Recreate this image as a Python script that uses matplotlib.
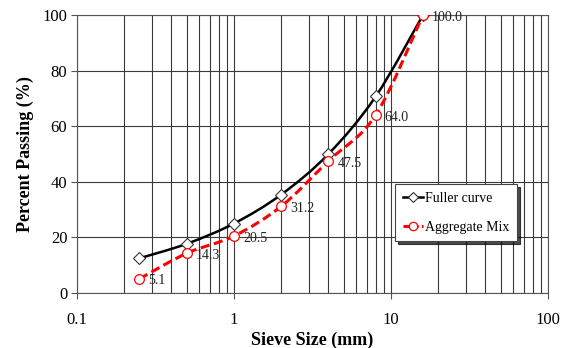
import numpy as np
import matplotlib.pyplot as plt
from matplotlib.path import Path
from matplotlib.patches import PathPatch
from matplotlib.ticker import FixedLocator, NullFormatter

# ====== DATA ======
sieve_mm = [0.25, 0.5, 1, 2, 4, 8, 16]
fuller = [12.5, 17.7, 25.0, 35.4, 50.0, 70.7, 100.0]
mix = [5.1, 14.3, 20.5, 31.2, 47.5, 64.0, 100.0]
mix_labels = ["5.1", "14.3", "20.5", "31.2", "47.5", "64.0", "100.0"]

plt.rcParams['font.family'] = ['Liberation Serif', 'DejaVu Serif']


def smooth_path(x, y):
    # Excel-style smoothed line: cubic bezier through the points (log x)
    u = np.log10(x)
    y = np.asarray(y, float)
    pts = np.column_stack([u, y])
    n = len(pts)
    verts = [pts[0]]
    codes = [Path.MOVETO]
    for i in range(n - 1):
        p0 = pts[i - 1] if i > 0 else pts[i]
        p3 = pts[i + 2] if i + 2 < n else pts[i + 1]
        c1 = pts[i] + (pts[i + 1] - p0) / 6
        c2 = pts[i + 1] - (p3 - pts[i]) / 6
        verts += [c1, c2, pts[i + 1]]
        codes += [Path.CURVE4] * 3
    verts = np.array(verts)
    verts[:, 0] = 10 ** verts[:, 0]
    return Path(verts, codes)


fig = plt.figure(figsize=(5.64, 3.48), dpi=100)
ax = fig.add_axes([0.1365, 0.158, 0.835, 0.799])

ax.set_xscale('log')
ax.set_xlim(0.1, 100)
ax.set_ylim(0, 100)

# grid
ax.xaxis.set_minor_locator(FixedLocator([m * 10.0 ** e for e in (-1, 0, 1) for m in range(2, 10)]))
ax.xaxis.set_minor_formatter(NullFormatter())
ax.set_xticks([0.1, 1, 10, 100])
ax.set_xticklabels(["0.1", "1", "10", "100"])
ax.set_yticks([0, 20, 40, 60, 80, 100])
ax.grid(True, which='both', axis='x', color='#3a3a3a', lw=0.8)
ax.grid(True, which='major', axis='y', color='#3a3a3a', lw=0.8)
ax.set_axisbelow(True)
for s in ax.spines.values():
    s.set_color('#555555')
    s.set_linewidth(0.8)
ax.tick_params(axis='x', which='major', direction='out', length=4, pad=10, labelsize=12, color='#555555')
ax.tick_params(axis='x', which='minor', length=0)
ax.tick_params(axis='y', direction='out', length=4, pad=3, labelsize=12, color='#555555')

# curves
ax.add_patch(PathPatch(smooth_path(sieve_mm, fuller), fill=False, ec='black', lw=1.8, zorder=3))
ax.add_patch(PathPatch(smooth_path(sieve_mm, mix), fill=False, ec='#ff0000', lw=2.2,
                       linestyle=(0, (3, 1.5)), zorder=3))

ax.plot(sieve_mm, fuller, ls='none', marker='D', ms=6, mfc='white', mec='#333333', mew=0.8, zorder=4)
ax.plot(sieve_mm, mix, ls='none', marker='o', ms=7, mfc='white', mec='#ff0000', mew=0.9, zorder=4)

for xv, yv, txt in zip(sieve_mm, mix, mix_labels):
    ax.annotate(txt, (xv, yv), xytext=(6.5, -1.5), textcoords='offset points',
                ha='left', va='center', fontsize=10, color='#222222', zorder=5)

# legend proxies
h1, = ax.plot([], [], color='black', lw=1.8, marker='D', ms=5, mfc='white', mec='#333333', mew=0.8)
h2, = ax.plot([], [], color='#ff0000', lw=2.2, ls=(0, (2, 1)), marker='o', ms=6, mfc='white',
              mec='#ff0000', mew=0.9)
leg = ax.legend([h1, h2], ["Fuller curve", "Aggregate Mix"], loc='upper left',
                bbox_to_anchor=(0.675, 0.392), fontsize=10, frameon=True, fancybox=False,
                shadow={'color': 'black', 'alpha': 0.7}, framealpha=1, edgecolor='#444444',
                handlelength=1.45, handletextpad=0.2, labelspacing=1.15, borderpad=0.55,
                borderaxespad=0)
leg.get_frame().set_linewidth(0.8)

ax.set_xlabel("Sieve Size (mm)", fontsize=13, fontweight='bold', labelpad=2)
ax.set_ylabel("Percent Passing (%)", fontsize=13, fontweight='bold', labelpad=6)

fig.savefig('out.png', dpi=100)
